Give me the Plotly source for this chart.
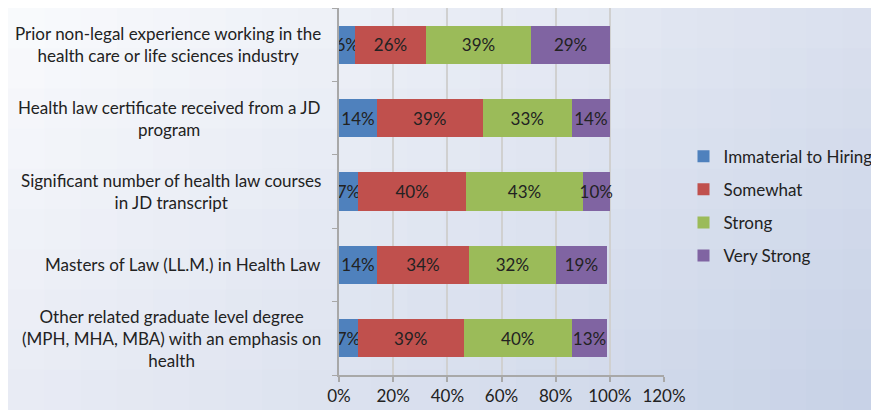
import plotly.graph_objects as go

categories = [
    "Prior non-legal experience working in the<br>health care or life sciences industry",
    "Health law certificate received from a JD<br>program",
    "Significant number of health law courses<br>in JD transcript",
    "Masters of Law (LL.M.) in Health Law",
    "Other related graduate level degree<br>(MPH, MHA, MBA) with an emphasis on<br>health",
]
series_names = ["Immaterial to Hiring", "Somewhat", "Strong", "Very Strong"]
immaterial = [6, 14, 7, 14, 7]
somewhat = [26, 39, 40, 34, 39]
strong = [39, 33, 43, 32, 40]
very_strong = [29, 14, 10, 19, 13]
colors = ["#4f81bd", "#c0504d", "#9bbb59", "#8064a2"]
x_ticks = [0, 0.2, 0.4, 0.6, 0.8, 1.0, 1.2]

FONT = "Lato, Open Sans, sans-serif"
FS = 17
W, H = 871, 402
ML, MR, MT, MB = 331, 215, 0, 35
ys = list(range(len(categories)))

fig = go.Figure()
for name, vals, col in zip(series_names, [immaterial, somewhat, strong, very_strong], colors):
    fig.add_trace(go.Bar(
        y=ys, x=[v / 100 for v in vals], name=name, orientation="h",
        legendgroup=name,
        marker=dict(color=col, line=dict(width=0)),
        text=[f"{v}%" for v in vals], textposition="inside", textangle=0,
        insidetextanchor="middle", constraintext="none",
        textfont=dict(size=FS, color="#222222", family=FONT),
        hoverinfo="skip",
    ))

for i, c in enumerate(categories):
    fig.add_annotation(
        x=-0.05, xref="paper", y=i, yref="y", text=c, showarrow=False,
        xanchor="right", align="center",
        font=dict(size=FS, color="#222222", family=FONT),
    )

# background gradient (top-left white -> bottom-right blue-grey)
pw = W - ML - MR
ph = H - MT - MB
x0p, x1p = -ML / pw, (W - ML) / pw
y0p, y1p = -MB / ph, (H - MB) / ph
tl, tr = (250, 251, 253), (218, 224, 238)
bl, br = (232, 235, 244), (198, 209, 230)
NX, NY = 24, 10
shapes = []
for ix in range(NX):
    for iy in range(NY):
        u = (ix + 0.5) / NX
        v = (iy + 0.5) / NY  # 0 top, 1 bottom
        col = tuple(
            round((1 - u) * (1 - v) * tl[k] + u * (1 - v) * tr[k] + (1 - u) * v * bl[k] + u * v * br[k])
            for k in range(3)
        )
        shapes.append(dict(
            type="rect", xref="paper", yref="paper", layer="below",
            x0=x0p + (x1p - x0p) * ix / NX, x1=x0p + (x1p - x0p) * (ix + 1) / NX + 0.01,
            y1=y1p - (y1p - y0p) * iy / NY, y0=y1p - (y1p - y0p) * (iy + 1) / NY - 0.01,
            line=dict(width=0), fillcolor="rgb(%d,%d,%d)" % col,
        ))

fig.update_layout(
    barmode="stack", bargap=0.48,
    width=W, height=H,
    margin=dict(l=ML, r=MR, t=MT, b=MB, autoexpand=False),
    paper_bgcolor="#f4f6fa", plot_bgcolor="rgba(0,0,0,0)",
    uniformtext=dict(mode="show", minsize=FS),
    font=dict(family=FONT, size=FS, color="#222222"),
    shapes=shapes,
    legend=dict(x=1.06, y=0.46, yanchor="middle", xanchor="left",
                traceorder="grouped", font=dict(size=FS, family=FONT, color="#222222"),
                itemwidth=30, tracegroupgap=8, bgcolor="rgba(0,0,0,0)"),
    showlegend=True,
)
fig.update_xaxes(range=[0, 1.2], tickvals=x_ticks, tickformat=".0%",
                 showgrid=True, gridcolor="#d0d0d0", gridwidth=2,
                 ticks="outside", ticklen=5, tickcolor="#a8a8a8", tickwidth=1.5,
                 zeroline=False, showline=True, linecolor="#a8a8a8", linewidth=1.5,
                 tickfont=dict(size=FS, family=FONT, color="#222222"))
fig.update_yaxes(showticklabels=False,
                 range=[4.5, -0.5], showgrid=False, zeroline=False,
                 showline=True, linecolor="#a8a8a8", linewidth=2,
                 tickmode="array", ticks="outside", ticklen=5, tickcolor="#a8a8a8",
                 tickvals=[-0.5, 0.5, 1.5, 2.5, 3.5, 4.5], ticktext=[""] * 6)

fig.write_html("out.html")
